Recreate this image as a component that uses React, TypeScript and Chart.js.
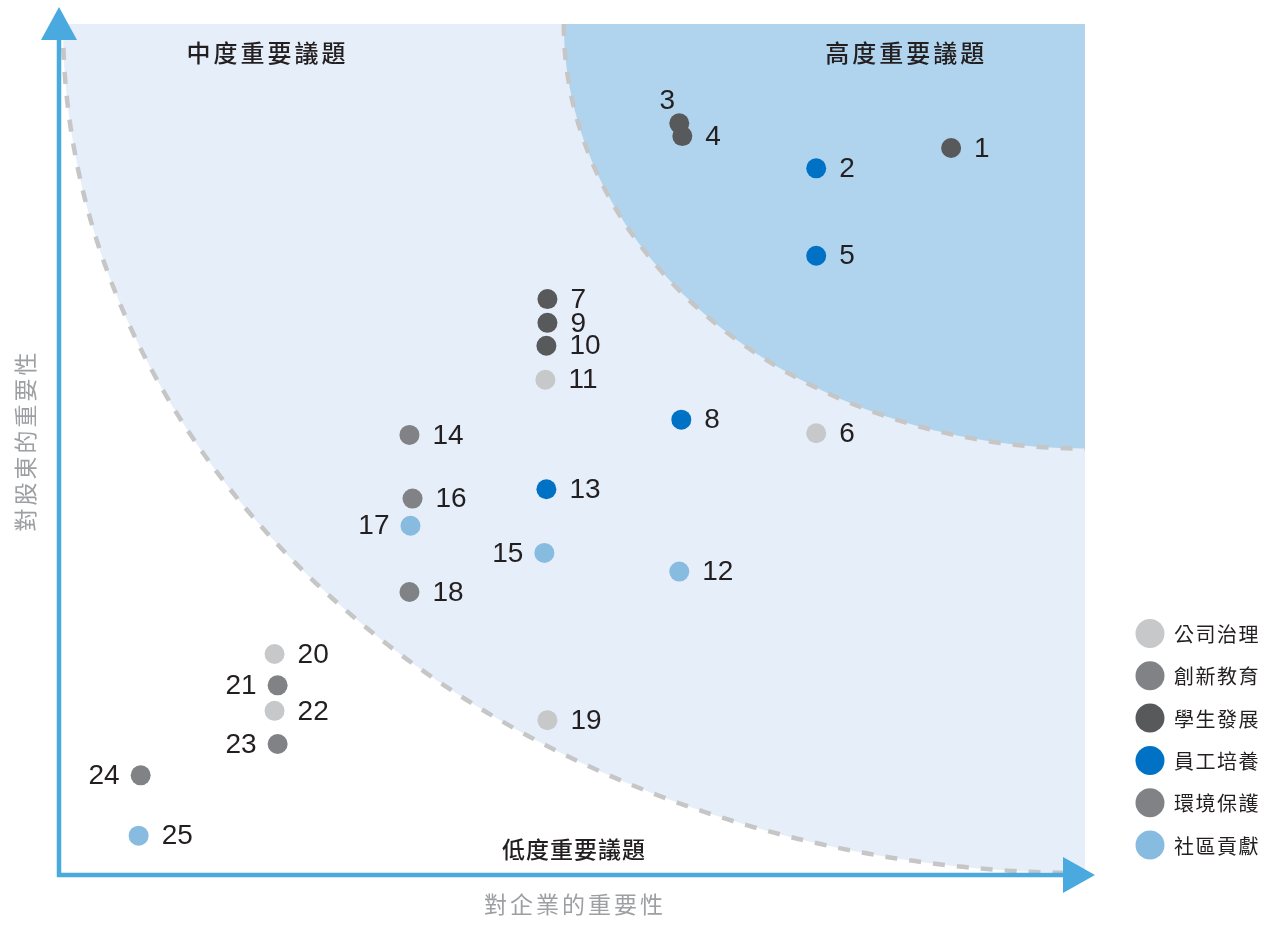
import React, { useEffect, useRef } from "react";
import { Chart, registerables } from "chart.js";

Chart.register(...registerables);

// ---- data ----
const categories = ["公司治理", "創新教育", "學生發展", "員工培養", "環境保護", "社區貢獻"];
const categoryColors = ["#c7c8ca", "#808285", "#58595b", "#0072c6", "#808285", "#88bbe0"];

const issueIds = [1, 2, 3, 4, 5, 6, 7, 8, 9, 10, 11, 12, 13, 14, 15, 16, 17, 18, 19, 20, 21, 22, 23, 24, 25];
// importance to the company (x)
const companyImportance = [86.9, 73.7, 60.3, 60.6, 73.7, 73.7, 47.4, 60.5, 47.4, 47.3, 47.2, 60.3, 47.3, 33.9, 47.1, 34.2, 34.0, 33.9, 47.4, 20.7, 21.0, 20.7, 21.0, 7.6, 7.4];
// importance to stakeholders (y)
const stakeholderImportance = [85.4, 83.0, 88.3, 86.8, 72.7, 51.8, 67.6, 53.4, 64.8, 62.1, 58.1, 35.5, 45.2, 51.6, 37.7, 44.1, 40.9, 33.1, 18.0, 25.8, 22.1, 19.1, 15.2, 11.5, 4.4];
const issueCategory = [2, 3, 2, 2, 3, 0, 2, 3, 2, 2, 0, 5, 3, 1, 5, 1, 5, 1, 0, 0, 4, 0, 4, 4, 5];
// label side: r = right, l = left, t = top
const labelSide = ["r", "r", "t", "r", "r", "r", "r", "r", "r", "r", "r", "r", "r", "r", "l", "r", "l", "r", "r", "r", "l", "r", "l", "l", "r"];

const regionTitles = ["中度重要議題", "高度重要議題", "低度重要議題"];
const regionTitleX = [20, 82.5, 50];
const regionTitleY = [96.6, 96.6, 2.8];

const outerRadius = [100, 100];
const innerRadius = [51, 50];

const xTitle = "對企業的重要性";
const yTitle = "對股東的重要性";

const CJK = '"Noto Sans CJK TC", "Noto Sans", sans-serif';
const NUM = '"Liberation Sans", Arial, sans-serif';

const matrixPlugin = {
  id: "matrixPlugin",
  beforeDatasetsDraw(chart: any) {
    const { ctx, chartArea, scales } = chart;
    const xs = scales.x;
    const ys = scales.y;
    const cx = xs.getPixelForValue(100);
    const cy = ys.getPixelForValue(100);
    const rxO = cx - xs.getPixelForValue(100 - outerRadius[0]);
    const ryO = ys.getPixelForValue(100 - outerRadius[1]) - cy;
    const rxI = cx - xs.getPixelForValue(100 - innerRadius[0]);
    const ryI = ys.getPixelForValue(100 - innerRadius[1]) - cy;

    ctx.save();
    // outer light region
    ctx.beginPath();
    ctx.moveTo(cx, cy);
    ctx.ellipse(cx, cy, rxO, ryO, 0, Math.PI / 2, Math.PI);
    ctx.closePath();
    ctx.fillStyle = "#e6eef9";
    ctx.fill();
    // inner dark region
    ctx.beginPath();
    ctx.moveTo(cx, cy);
    ctx.ellipse(cx, cy, rxI, ryI, 0, Math.PI / 2, Math.PI);
    ctx.closePath();
    ctx.fillStyle = "#b1d4ee";
    ctx.fill();
    // dashed arcs
    ctx.setLineDash([12, 12]);
    ctx.lineWidth = 4.5;
    ctx.strokeStyle = "#c6c6c6";
    ctx.beginPath();
    ctx.ellipse(cx, cy, rxO, ryO, 0, Math.PI, Math.PI / 2, true);
    ctx.stroke();
    ctx.beginPath();
    ctx.ellipse(cx, cy, rxI, ryI, 0, Math.PI, Math.PI / 2, true);
    ctx.stroke();
    ctx.setLineDash([]);

    // axes
    const ax = chartArea.left - 4;
    const ay = chartArea.bottom + 2;
    ctx.strokeStyle = "#4aa9df";
    ctx.fillStyle = "#4aa9df";
    ctx.lineWidth = 4.5;
    ctx.beginPath();
    ctx.moveTo(ax, ay + 2);
    ctx.lineTo(ax, chartArea.top + 16);
    ctx.stroke();
    ctx.beginPath();
    ctx.moveTo(ax - 2, ay);
    ctx.lineTo(chartArea.right - 20, ay);
    ctx.stroke();
    // y arrow
    ctx.beginPath();
    ctx.moveTo(ax, chartArea.top - 17);
    ctx.lineTo(ax - 18, chartArea.top + 16);
    ctx.lineTo(ax + 18, chartArea.top + 16);
    ctx.closePath();
    ctx.fill();
    // x arrow
    ctx.beginPath();
    ctx.moveTo(chartArea.right + 10, ay);
    ctx.lineTo(chartArea.right - 22, ay - 18);
    ctx.lineTo(chartArea.right - 22, ay + 18);
    ctx.closePath();
    ctx.fill();

    // axis titles
    ctx.fillStyle = "#9d9fa2";
    ctx.font = `23px ${CJK}`;
    (ctx as any).letterSpacing = "3px";
    ctx.textAlign = "center";
    ctx.textBaseline = "middle";
    ctx.fillText(xTitle, (chartArea.left + chartArea.right) / 2 + 1, chartArea.bottom + 31);
    ctx.save();
    ctx.translate(chartArea.left - 38, (chartArea.top + chartArea.bottom) / 2 - 8);
    ctx.rotate(-Math.PI / 2);
    ctx.fillText(yTitle, 0, 0);
    ctx.restore();

    // region titles
    ctx.fillStyle = "#231f20";
    for (let i = 0; i < regionTitles.length; i++) {
      ctx.font = `500 ${i === 2 ? 23 : 24}px ${CJK}`;
      (ctx as any).letterSpacing = i === 2 ? "1px" : "3px";
      ctx.fillText(regionTitles[i], xs.getPixelForValue(regionTitleX[i]), ys.getPixelForValue(regionTitleY[i]));
    }
    (ctx as any).letterSpacing = "0px";
    ctx.restore();
  },
  afterDatasetsDraw(chart: any) {
    const { ctx, chartArea } = chart;
    ctx.save();
    ctx.fillStyle = "#231f20";
    ctx.font = `28px ${NUM}`;
    ctx.textBaseline = "middle";
    chart.data.datasets.forEach((ds: any, di: number) => {
      const meta = chart.getDatasetMeta(di);
      meta.data.forEach((el: any, j: number) => {
        const idx = ds.data[j].idx;
        const side = labelSide[idx];
        const text = String(issueIds[idx]);
        if (side === "r") {
          ctx.textAlign = "left";
          ctx.fillText(text, el.x + 23, el.y + 1);
        } else if (side === "l") {
          ctx.textAlign = "right";
          ctx.fillText(text, el.x - 21, el.y + 1);
        } else {
          ctx.textAlign = "center";
          ctx.fillText(text, el.x - 12, el.y - 22);
        }
      });
    });

    // legend
    const lx = chartArea.right + 65;
    const startY = chartArea.bottom - 28 - 42.3 * (categories.length - 1);
    ctx.font = `20px ${CJK}`;
    (ctx as any).letterSpacing = "1.5px";
    ctx.textAlign = "left";
    categories.forEach((c, i) => {
      const yy = startY + i * 42.3;
      ctx.beginPath();
      ctx.arc(lx, yy, 14.5, 0, Math.PI * 2);
      ctx.fillStyle = categoryColors[i];
      ctx.fill();
      ctx.fillStyle = "#231f20";
      ctx.fillText(c, lx + 24, yy + 1);
    });
    (ctx as any).letterSpacing = "0px";
    ctx.restore();
  },
};

export default function App() {
  const canvasRef = useRef<HTMLCanvasElement | null>(null);

  useEffect(() => {
    if (!canvasRef.current) return;
    const datasets = categories.map((name, ci) => ({
      label: name,
      data: issueIds
        .map((_, i) => i)
        .filter((i) => issueCategory[i] === ci)
        .map((i) => ({ x: companyImportance[i], y: stakeholderImportance[i], idx: i })),
      backgroundColor: categoryColors[ci],
      borderWidth: 0,
      pointRadius: 10,
      pointHoverRadius: 10,
      clip: false as any,
    }));
    const chart = new Chart(canvasRef.current, {
      type: "scatter",
      data: { datasets },
      options: {
        animation: false,
        responsive: true,
        maintainAspectRatio: false,
        layout: { padding: { left: 63, top: 24, right: 186, bottom: 55 } },
        scales: {
          x: { type: "linear", min: 0, max: 100, display: false },
          y: { type: "linear", min: 0, max: 100, display: false },
        },
        plugins: {
          legend: { display: false },
          tooltip: { enabled: false },
        },
        events: [],
      },
      plugins: [matrixPlugin],
    });
    return () => chart.destroy();
  }, []);

  return (
    <div style={{ position: "fixed", left: 0, top: 0, width: 1271, height: 928, background: "#fff" }}>
      <canvas ref={canvasRef} />
    </div>
  );
}
